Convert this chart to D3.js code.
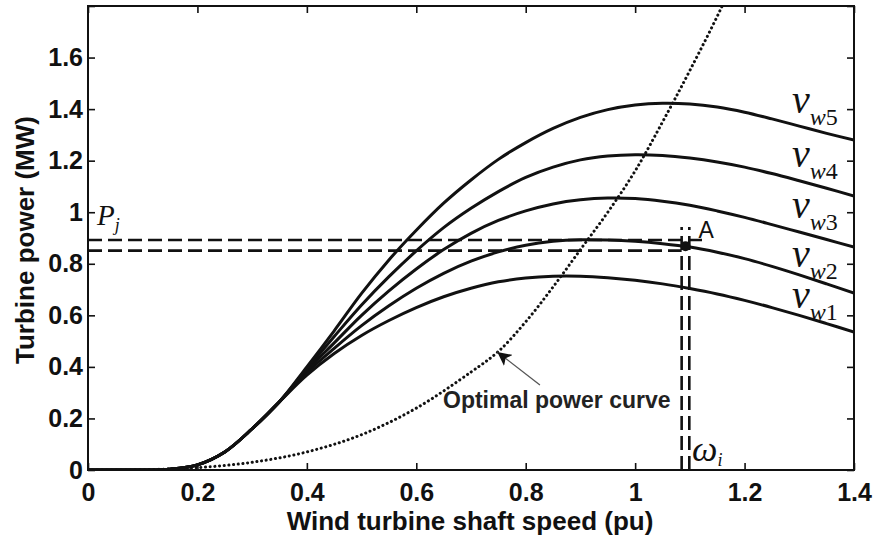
<!DOCTYPE html>
<html>
<head>
<meta charset="utf-8">
<script src="https://cdn.jsdelivr.net/npm/d3@7"></script>
<style>
  html, body { margin: 0; padding: 0; background: #fff; }
  svg { display: block; }
</style>
</head>
<body>
<svg id="chart" width="879" height="539"></svg>
<script>
// ---------------- DATA ----------------
const omega = [0, 0.05, 0.1, 0.15, 0.2, 0.25, 0.3, 0.35, 0.4, 0.45, 0.5, 0.55, 0.6, 0.65, 0.7, 0.75, 0.8, 0.85, 0.9, 0.95, 1.0, 1.05, 1.1, 1.15, 1.2, 1.25, 1.3, 1.35, 1.4];

const vw1 = [0, 0, 0, 0.003, 0.02, 0.07, 0.16, 0.265, 0.368, 0.452, 0.522, 0.58, 0.63, 0.672, 0.705, 0.73, 0.745, 0.752, 0.752, 0.746, 0.736, 0.722, 0.704, 0.683, 0.658, 0.63, 0.60, 0.568, 0.535];
const vw2 = [0, 0, 0, 0.003, 0.02, 0.07, 0.16, 0.265, 0.378, 0.472, 0.56, 0.637, 0.705, 0.763, 0.81, 0.846, 0.872, 0.887, 0.893, 0.892, 0.887, 0.878, 0.865, 0.845, 0.82, 0.79, 0.757, 0.722, 0.686];
const vw3 = [0, 0, 0, 0.003, 0.02, 0.07, 0.16, 0.265, 0.386, 0.493, 0.60, 0.695, 0.78, 0.855, 0.918, 0.968, 1.005, 1.032, 1.048, 1.055, 1.053, 1.043, 1.027, 1.005, 0.98, 0.952, 0.923, 0.894, 0.865];
const vw4 = [0, 0, 0, 0.003, 0.02, 0.07, 0.16, 0.265, 0.393, 0.518, 0.64, 0.75, 0.85, 0.94, 1.015, 1.08, 1.135, 1.175, 1.203, 1.218, 1.223, 1.22, 1.21, 1.195, 1.175, 1.15, 1.122, 1.093, 1.063];
const vw5 = [0, 0, 0, 0.003, 0.02, 0.07, 0.16, 0.265, 0.40, 0.54, 0.685, 0.815, 0.93, 1.035, 1.125, 1.205, 1.27, 1.325, 1.368, 1.398, 1.416, 1.423, 1.42, 1.408, 1.388, 1.362, 1.334, 1.306, 1.28];

const seriesNames = ["w1", "w2", "w3", "w4", "w5"];

const optOmega = [0, 0.1, 0.2, 0.3, 0.4, 0.5, 0.6, 0.7, 0.75, 0.8, 0.85, 0.9, 0.95, 1.0, 1.05, 1.1, 1.159, 1.2];
const optPower = [0, 0.001, 0.009, 0.03, 0.07, 0.137, 0.24, 0.38, 0.46, 0.575, 0.71, 0.855, 1.0, 1.16, 1.35, 1.55, 1.8, 2.0];

// operating-point annotations
const pLevels = [0.892, 0.851];          // horizontal dashed levels (P_j)
const pLevelEnds = [1.124, 1.085];       // omega where each horizontal ends
const omegaLevels = [1.085, 1.099];      // vertical dashed levels (omega_i)
const omegaLevelTop = 0.943;             // power where verticals end
const pointA = [1.092, 0.868];

const xTicks = [0, 0.2, 0.4, 0.6, 0.8, 1.0, 1.2, 1.4];
const xTickLabels = ["0", "0.2", "0.4", "0.6", "0.8", "1", "1.2", "1.4"];
const yTicks = [0, 0.2, 0.4, 0.6, 0.8, 1.0, 1.2, 1.4, 1.6, 1.8];
const yTickLabels = ["0", "0.2", "0.4", "0.6", "0.8", "1", "1.2", "1.4", "1.6", ""];

// ---------------- LAYOUT ----------------
const svg = d3.select("#chart");
const L = 88, R = 854, T = 6, B = 470;
const x = d3.scaleLinear().domain([0, 1.4]).range([L, R]);
const y = d3.scaleLinear().domain([0, 1.8]).range([B, T]);
const ink = "#111";
const sans = "'Liberation Sans', Arial, Helvetica, sans-serif";
const serif = "'Liberation Serif', 'Times New Roman', serif";

svg.append("defs").append("clipPath").attr("id", "plotclip")
  .append("rect").attr("x", L).attr("y", T).attr("width", R - L).attr("height", B - T);

// axes with inside ticks
function styleAxis(g) {
  g.select(".domain").remove();
  g.selectAll(".tick line").attr("stroke", ink).attr("stroke-width", 1.6);
  g.selectAll(".tick text").attr("fill", ink).attr("font-family", sans)
    .attr("font-weight", "bold").attr("font-size", 25);
}
svg.append("g").attr("transform", `translate(0,${B})`)
  .call(d3.axisBottom(x).tickValues(xTicks).tickSize(-7).tickPadding(13)
    .tickFormat((d, i) => xTickLabels[i]))
  .call(styleAxis);
svg.append("g").attr("transform", `translate(${L},0)`)
  .call(d3.axisLeft(y).tickValues(yTicks).tickSize(-7).tickPadding(5)
    .tickFormat((d, i) => yTickLabels[i]))
  .call(styleAxis);
svg.append("g").attr("transform", `translate(0,${T})`)
  .call(d3.axisTop(x).tickValues(xTicks).tickSize(-7).tickFormat(""))
  .call(styleAxis);
svg.append("g").attr("transform", `translate(${R},0)`)
  .call(d3.axisRight(y).tickValues(yTicks).tickSize(-7).tickFormat(""))
  .call(styleAxis);

// frame
svg.append("rect").attr("x", L).attr("y", T).attr("width", R - L).attr("height", B - T)
  .attr("fill", "none").attr("stroke", ink).attr("stroke-width", 2);

const plot = svg.append("g").attr("clip-path", "url(#plotclip)");

// optimal power curve (dotted)
const optLine = d3.line().x((d, i) => x(optOmega[i])).y(d => y(d)).curve(d3.curveCatmullRom.alpha(0.5));
plot.append("path").attr("d", optLine(optPower))
  .attr("fill", "none").attr("stroke", ink).attr("stroke-width", 3)
  .attr("stroke-linecap", "round").attr("stroke-dasharray", "0.1 4.6");

// power curves
const line = d3.line().x((d, i) => x(omega[i])).y(d => y(d)).curve(d3.curveCatmullRom.alpha(0.5));
[vw1, vw2, vw3, vw4, vw5].forEach(s => {
  plot.append("path").attr("d", line(s))
    .attr("fill", "none").attr("stroke", ink).attr("stroke-width", 3);
});

// dashed annotation lines
pLevels.forEach((p, i) => {
  plot.append("line").attr("x1", x(0)).attr("x2", x(pLevelEnds[i]))
    .attr("y1", y(p)).attr("y2", y(p))
    .attr("stroke", ink).attr("stroke-width", 2.6).attr("stroke-dasharray", "14 6");
});
omegaLevels.forEach(w => {
  plot.append("line").attr("x1", x(w)).attr("x2", x(w))
    .attr("y1", y(0)).attr("y2", y(omegaLevelTop))
    .attr("stroke", ink).attr("stroke-width", 2.6).attr("stroke-dasharray", "14 6");
});

// point A
svg.append("circle").attr("cx", x(pointA[0])).attr("cy", y(pointA[1])).attr("r", 5).attr("fill", ink);
svg.append("text").attr("x", x(pointA[0]) + 13).attr("y", y(pointA[1]) - 8)
  .attr("font-family", sans).attr("font-size", 23).attr("fill", ink).text("A");

// wind-speed labels
const labelP = [0.628, 0.787, 0.977, 1.175, 1.385];
seriesNames.forEach((nm, i) => {
  const t = svg.append("text").attr("x", 792).attr("y", y(labelP[i]))
    .attr("font-family", serif).attr("fill", ink);
  t.append("tspan").attr("font-style", "italic").attr("font-size", 40).text("v");
  t.append("tspan").attr("font-style", "italic").attr("font-size", 24).attr("dy", 12).text(nm[0]);
  t.append("tspan").attr("font-size", 24).text(nm[1]);
});

// P_j label
const pj = svg.append("text").attr("x", 97).attr("y", 225).attr("font-family", serif)
  .attr("font-style", "italic").attr("fill", ink);
pj.append("tspan").attr("font-size", 29).text("P");
pj.append("tspan").attr("font-size", 18).attr("dy", 6).text("j");

// omega_i label
const wi = svg.append("text").attr("x", 692).attr("y", 461).attr("font-family", serif)
  .attr("font-style", "italic").attr("fill", ink);
wi.append("tspan").attr("font-size", 36).text("ω");
wi.append("tspan").attr("font-size", 18).attr("dy", 5).text("i");

// optimal power curve annotation
const arrowTip = [0.748, 0.458], arrowTail = [0.826, 0.33];
svg.append("defs").append("marker").attr("id", "ah").attr("viewBox", "0 0 10 10")
  .attr("refX", 10).attr("refY", 5).attr("markerWidth", 14).attr("markerHeight", 14)
  .attr("markerUnits", "userSpaceOnUse").attr("orient", "auto")
  .append("path").attr("d", "M0,0 L10,5 L0,10 L2.5,5 Z").attr("fill", ink);
svg.append("line").attr("x1", x(arrowTail[0])).attr("y1", y(arrowTail[1]))
  .attr("x2", x(arrowTip[0])).attr("y2", y(arrowTip[1]))
  .attr("stroke", "#555").attr("stroke-width", 1.3).attr("marker-end", "url(#ah)");
svg.append("text").attr("x", 443).attr("y", 408).attr("font-family", sans)
  .attr("font-weight", "bold").attr("font-size", 23).attr("fill", "#222").text("Optimal power curve");

// axis titles
svg.append("text").attr("x", 470).attr("y", 530).attr("text-anchor", "middle")
  .attr("font-family", sans).attr("font-weight", "bold").attr("font-size", 26).attr("fill", ink)
  .text("Wind turbine shaft speed (pu)");
svg.append("text").attr("transform", "translate(34,240) rotate(-90)").attr("text-anchor", "middle")
  .attr("font-family", sans).attr("font-weight", "bold").attr("font-size", 26).attr("fill", ink)
  .text("Turbine power (MW)");
</script>
</body>
</html>
